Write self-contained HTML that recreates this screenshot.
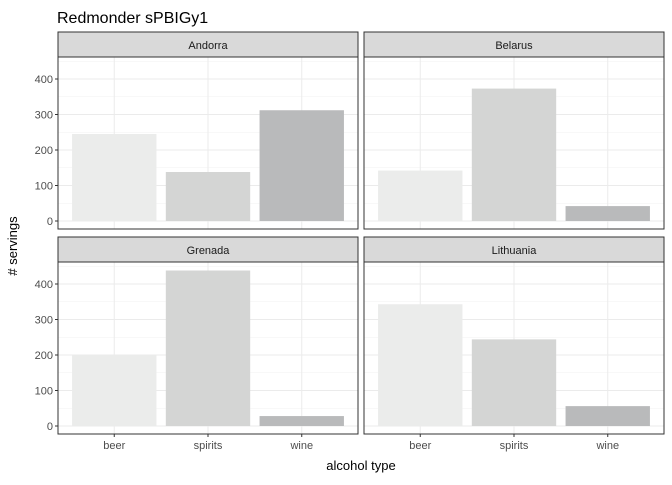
<!DOCTYPE html>
<html><head><meta charset="utf-8"><style>
body{margin:0;background:#fff;font-family:"Liberation Sans",Arial,sans-serif}
svg text{font-family:"Liberation Sans",Arial,sans-serif}
</style></head><body>
<svg id="chart" width="672" height="480" xmlns="http://www.w3.org/2000/svg">
<text x="57" y="23" font-size="16" fill="#000">Redmonder sPBIGy1</text>
<text x="17" y="246" font-size="13" fill="#000" text-anchor="middle" transform="rotate(-90 17 246)"># servings</text>
<text x="361" y="470" font-size="13" fill="#000" text-anchor="middle">alcohol type</text>
</svg>
<script>
const countries=["Andorra","Belarus","Grenada","Lithuania"];
const categories=["beer","spirits","wine"];
const beerVals=[245,142,199,343];
const spiritsVals=[138,373,438,244];
const wineVals=[312,42,28,56];
const yTicks=[0,100,200,300,400];
const colors=["#ebeceb","#d4d5d4","#b9babb"];
const svg=document.getElementById('chart');
const NS="http://www.w3.org/2000/svg";
function mk(t,a,p){const e=document.createElementNS(NS,t);for(const k in a)e.setAttribute(k,a[k]);(p||svg).appendChild(e);return e;}
const panels=[{x:58,y:57},{x:364,y:57},{x:58,y:262},{x:364,y:262}];
const PW=300,PH=172,base=164;
function yS(v,p){return p.y+base-v*0.355;}
function xS(i,p){return p.x+(i+0.6)*(PW/3.2);}
panels.forEach((p,pi)=>{
  const g=mk('g',{});
  
  
  const s=mk('rect',{x:p.x,y:p.y-25,width:PW,height:25,fill:'#d9d9d9',stroke:'#333','stroke-width':1},g);
  
  
  const st=mk('text',{x:p.x+PW/2,y:p.y-8,'font-size':11,'text-anchor':'middle',fill:'#1a1a1a'},g);
  st.textContent=countries[pi];
  
  
  for(let v=50;v<=450;v+=100){const y=yS(v,p);if(y>p.y)mk('line',{x1:p.x,x2:p.x+PW,y1:y,y2:y,stroke:'#f2f2f2','stroke-width':0.6},g);}
  yTicks.forEach(v=>{const y=yS(v,p);mk('line',{x1:p.x,x2:p.x+PW,y1:y,y2:y,stroke:'#ebebeb','stroke-width':1},g);});
  categories.forEach((c,i)=>{const x=xS(i,p);mk('line',{x1:x,x2:x,y1:p.y,y2:p.y+PH,stroke:'#ebebeb','stroke-width':1},g);});
  const vals=[beerVals[pi],spiritsVals[pi],wineVals[pi]];
  const bw=0.9*PW/3.2;
  vals.forEach((v,i)=>{
    const b=mk('rect',{x:xS(i,p)-bw/2,y:yS(v,p),width:bw,height:yS(0,p)-yS(v,p),fill:colors[i]},g);
    
    
  });
  mk('rect',{x:p.x,y:p.y,width:PW,height:PH,fill:'none',stroke:'#333','stroke-width':1},g);
  if(p.x===58){yTicks.forEach(v=>{const y=yS(v,p);mk('line',{x1:p.x-3,x2:p.x,y1:y,y2:y,stroke:'#333'},g);
    const t=mk('text',{x:p.x-5,y:y+4,'font-size':11,'text-anchor':'end',fill:'#4d4d4d'},g);t.textContent=v;
    
    });}
  if(p.y===262){categories.forEach((c,i)=>{const x=xS(i,p);mk('line',{x1:x,x2:x,y1:p.y+PH,y2:p.y+PH+3,stroke:'#333'},g);
    const t=mk('text',{x:x,y:p.y+PH+15,'font-size':11,'text-anchor':'middle',fill:'#4d4d4d'},g);t.textContent=c;
    
    });}
});
</script>
</body></html>
